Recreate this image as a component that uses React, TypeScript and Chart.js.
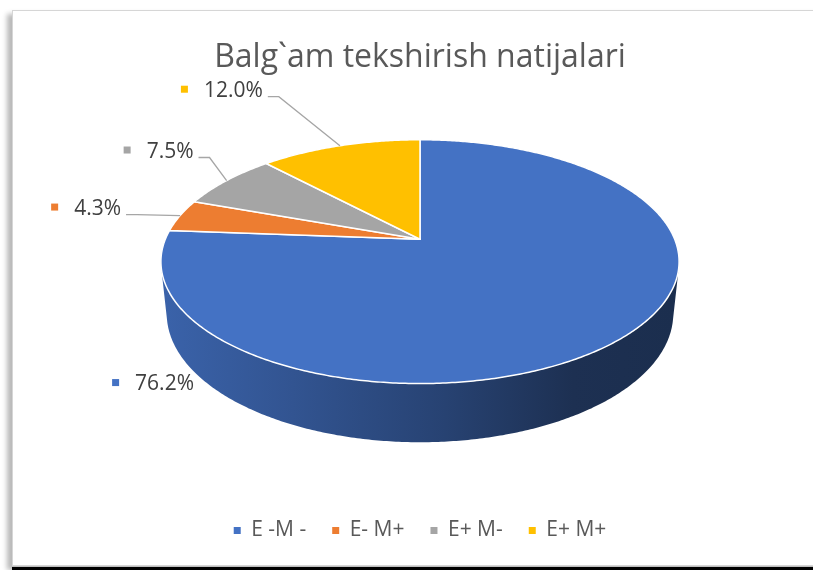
import React, { useEffect, useRef } from 'react';
import { Chart, registerables } from 'chart.js';

Chart.register(...registerables);

// ---------- data ----------
const chartTitle = 'Balg`am tekshirish natijalari';
const categories = ['E -M -', 'E- M+', 'E+ M-', 'E+ M+'];
const values = [76.2, 4.3, 7.5, 12.0];
const colors = ['#4472C4', '#ED7D31', '#A5A5A5', '#FFC000'];

// ---------- style / layout (not data) ----------
const FONT = 'Open Sans';
// label text placement relative to the slice's rim midpoint
const LABEL_LAYOUT = [
  { dx: -485, dy: 45, leader: false },
  { dx: -106, dy: -7, leader: true },
  { dx: -80, dy: -29, leader: true },
  { dx: -136, dy: -55, leader: true },
];
// perspective projection of the 3-D pie
const R_L = 0.207; // radius / camera distance
const COS_T = 0.887;
const SIN_T = 0.4625;
const DEPTH = 0.232; // pie thickness in radius units
const WIDTH_RATIO = 1.2527; // projected half-width relative to chart.js outerRadius
const APEX_SHIFT = -0.253; // apex vertical offset relative to outerRadius

function project(cx: number, cy: number, K: number, a: number, h: number) {
  const X = Math.cos(a);
  const Z = Math.sin(a);
  const d = 1 - R_L * (Z * COS_T + h * SIN_T);
  return { x: cx + (K * X) / d, y: cy + (K * (Z * SIN_T - h * COS_T)) / d };
}

function hexToRgb(hex: string) {
  const n = parseInt(hex.slice(1), 16);
  return [(n >> 16) & 255, (n >> 8) & 255, n & 255];
}
function shade(hex: string, f: number) {
  const [r, g, b] = hexToRgb(hex);
  return `rgb(${Math.round(r * f)},${Math.round(g * f)},${Math.round(b * f)})`;
}

function geom(chart: any) {
  const meta = chart.getDatasetMeta(0);
  const a0: any = meta.data[0];
  const R = a0.outerRadius;
  return {
    arcs: meta.data as any[],
    cx: a0.x,
    cy: a0.y + R * APEX_SHIFT,
    K: R * WIDTH_RATIO,
  };
}

function drawLabels(chart: any) {
  const ctx: CanvasRenderingContext2D = chart.ctx;
  const { arcs, cx, cy, K } = geom(chart);
  const total = values.reduce((a, b) => a + b, 0);
  ctx.save();
  ctx.font = `21px "${FONT}"`;
  ctx.textBaseline = 'middle';
  ctx.textAlign = 'left';
  arcs.forEach((arc: any, i: number) => {
    const mid = (arc.startAngle + arc.endAngle) / 2;
    const p = project(cx, cy, K, mid, 0);
    const L = LABEL_LAYOUT[i];
    const tx = p.x + L.dx;
    const ty = p.y + L.dy;
    const text = ((values[i] / total) * 100).toFixed(1) + '%';
    ctx.fillStyle = colors[i];
    ctx.fillRect(tx - 23, ty - 5, 7, 7);
    ctx.fillStyle = '#404040';
    ctx.fillText(text, tx, ty);
    if (L.leader) {
      const w = ctx.measureText(text).width;
      const sx = tx + w + 5;
      const sy = ty + 6;
      ctx.beginPath();
      ctx.moveTo(sx, sy);
      ctx.lineTo(sx + 11, sy);
      ctx.lineTo(p.x, p.y);
      ctx.strokeStyle = '#A6A6A6';
      ctx.lineWidth = 1.3;
      ctx.stroke();
    }
  });
  ctx.restore();
}

const pie3d = {
  id: 'pie3d',
  beforeDatasetsDraw(chart: any) {
    const ctx: CanvasRenderingContext2D = chart.ctx;
    const { arcs, cx, cy, K } = geom(chart);
    const visMin = Math.asin(R_L / COS_T);
    const visMax = Math.PI - visMin;
    ctx.save();
    // sides (front-facing part only)
    arcs.forEach((arc: any, i: number) => {
      const s = arc.startAngle;
      const e = arc.endAngle;
      for (let k = -1; k <= 1; k++) {
        const lo = Math.max(s, visMin + 2 * Math.PI * k);
        const hi = Math.min(e, visMax + 2 * Math.PI * k);
        if (hi <= lo) continue;
        const n = Math.max(4, Math.ceil((hi - lo) / 0.01));
        ctx.beginPath();
        for (let j = 0; j <= n; j++) {
          const p = project(cx, cy, K, lo + ((hi - lo) * j) / n, 0);
          if (j === 0) ctx.moveTo(p.x, p.y);
          else ctx.lineTo(p.x, p.y);
        }
        for (let j = n; j >= 0; j--) {
          const p = project(cx, cy, K, lo + ((hi - lo) * j) / n, -DEPTH);
          ctx.lineTo(p.x, p.y);
        }
        ctx.closePath();
        const g = ctx.createLinearGradient(cx - K, 0, cx + K, 0);
        const c = colors[i % colors.length];
        g.addColorStop(0, shade(c, 0.86));
        g.addColorStop(0.25, shade(c, 0.74));
        g.addColorStop(0.55, shade(c, 0.58));
        g.addColorStop(0.8, shade(c, 0.42));
        g.addColorStop(1, shade(c, 0.4));
        ctx.fillStyle = g;
        ctx.fill();
      }
    });
    // top faces
    arcs.forEach((arc: any, i: number) => {
      const s = arc.startAngle;
      const e = arc.endAngle;
      const n = Math.max(4, Math.ceil((e - s) / 0.01));
      ctx.beginPath();
      ctx.moveTo(cx, cy);
      for (let j = 0; j <= n; j++) {
        const p = project(cx, cy, K, s + ((e - s) * j) / n, 0);
        ctx.lineTo(p.x, p.y);
      }
      ctx.closePath();
      ctx.fillStyle = colors[i % colors.length];
      ctx.fill();
      ctx.lineWidth = 1.5;
      ctx.lineJoin = 'round';
      ctx.strokeStyle = '#ffffff';
      ctx.stroke();
    });
    ctx.restore();
    drawLabels(chart);
    return false;
  },
};

export default function App() {
  const ref = useRef<HTMLCanvasElement>(null);
  useEffect(() => {
    if (!ref.current) return;
    const chart = new Chart(ref.current, {
      type: 'pie',
      data: {
        labels: categories,
        datasets: [
          {
            data: values,
            backgroundColor: colors,
            borderWidth: 0,
          },
        ],
      },
      options: {
        responsive: false,
        animation: false,
        devicePixelRatio: 1,
        layout: { padding: { left: 27, right: 0, top: 0, bottom: 19 } },
        plugins: {
          title: {
            display: true,
            text: chartTitle,
            color: '#595959',
            font: { family: FONT, size: 32, weight: 'normal' },
            padding: { top: 39, bottom: 10 },
          },
          legend: {
            position: 'bottom',
            labels: {
              usePointStyle: true,
              pointStyle: 'rect',
              boxWidth: 7,
              boxHeight: 7,
              padding: 26,
              color: '#595959',
              font: { family: FONT, size: 21 },
            },
          },
          tooltip: { enabled: false },
        },
      } as any,
      plugins: [pie3d as any],
    });
    return () => chart.destroy();
  }, []);
  return (
    <div
      style={{
        position: 'absolute',
        left: 0,
        top: 0,
        width: 813,
        height: 570,
        overflow: 'hidden',
        background: '#ffffff',
      }}
    >
      <div
        style={{
          position: 'absolute',
          left: 12,
          top: 10,
          width: 840,
          height: 554,
          border: '1.5px solid #d6d6d6',
          boxShadow: '-5px 4px 5px rgba(0,0,0,0.28)',
          background: '#ffffff',
        }}
      />
      <div
        style={{
          position: 'absolute',
          left: 12,
          top: 567,
          width: 840,
          height: 3,
          background: '#000000',
        }}
      />
      <canvas
        ref={ref}
        width={813}
        height={570}
        style={{ position: 'absolute', left: 0, top: 0 }}
      />
    </div>
  );
}
